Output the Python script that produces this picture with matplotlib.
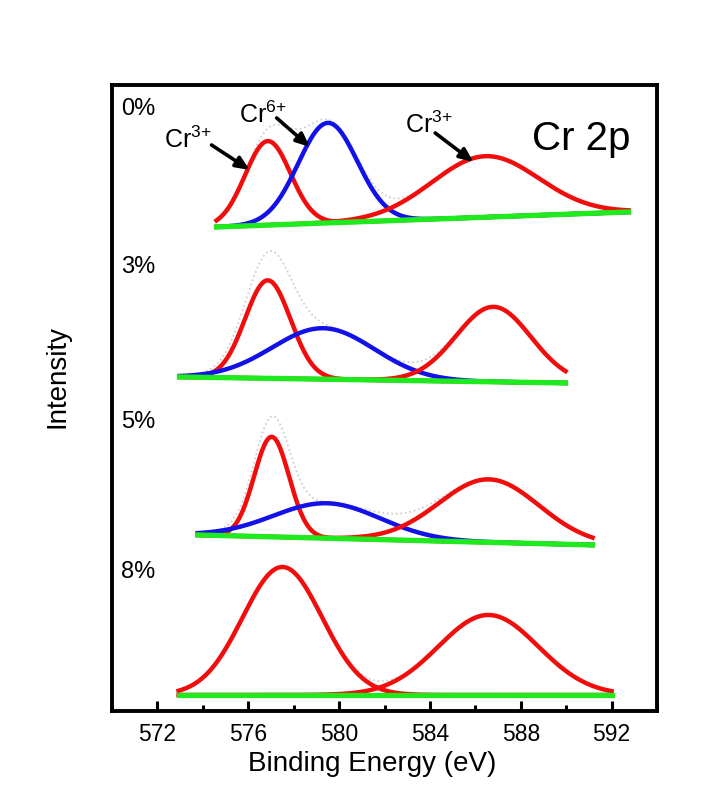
import matplotlib
matplotlib.use("Agg")
import matplotlib.pyplot as plt
import numpy as np
from matplotlib.ticker import MultipleLocator

plt.rcParams['font.family'] = ['Liberation Sans', 'DejaVu Sans']
plt.rcParams['mathtext.fontset'] = 'custom'
plt.rcParams['mathtext.rm'] = 'Liberation Sans'
plt.rcParams['mathtext.it'] = 'Liberation Sans'

# sample labels, top to bottom
samples = ["0%", "3%", "5%", "8%"]

# baseline (drawn as a straight line): start/end energy and intensity
base_x0 = [574.6, 572.97, 573.77, 572.93]
base_x1 = [592.75, 589.97, 591.16, 592.0]
base_y0 = [484, 334, 176, 16]
base_y1 = [499, 328, 166, 16]

# fitted components: Cr3+ (2p3/2), Cr6+, Cr3+ (2p1/2)
cr3a_center = [576.86, 576.86, 577.03, 577.5]
cr3a_height = [84, 98, 100, 128]
cr3a_sigma = [1.0, 1.0, 0.77, 1.75]

cr6_center = [579.5, 579.3, 579.46, None]
cr6_height = [100, 51, 35, None]
cr6_sigma = [1.3, 2.25, 2.35, None]

cr3b_center = [586.44, 586.8, 586.6, 586.57]
cr3b_height = [61, 75, 63, 80]
cr3b_sigma = [2.35, 1.65, 2.2, 2.2]

# label positions
label_y = [596, 438, 283, 133]

RED = "#f20d0d"
BLUE = "#1212e8"
GREEN = "#1eea1e"


def gauss(x, c, h, s):
    return h * np.exp(-(x - c) ** 2 / (2 * s ** 2))


fig = plt.figure(figsize=(7.2, 7.89), dpi=100)
ax = fig.add_axes([0.1556, 0.0989, 0.757, 0.7934])

for i in range(len(samples)):
    x = np.linspace(base_x0[i], base_x1[i], 400)
    base = base_y0[i] + (base_y1[i] - base_y0[i]) * (x - base_x0[i]) / (base_x1[i] - base_x0[i])
    p1 = gauss(x, cr3a_center[i], cr3a_height[i], cr3a_sigma[i])
    p3 = gauss(x, cr3b_center[i], cr3b_height[i], cr3b_sigma[i])
    total = p1 + p3
    if cr6_center[i] is not None:
        p2 = gauss(x, cr6_center[i], cr6_height[i], cr6_sigma[i])
        total = total + p2
    ax.plot(x, base + total, color="#d0d0d0", lw=1.3, ls=(0, (1, 1.5)), zorder=1)
    ax.plot(x, base + p1, color=RED, lw=3.2, zorder=3)
    if cr6_center[i] is not None:
        ax.plot(x, base + p2, color=BLUE, lw=3.2, zorder=3)
    ax.plot(x, base + p3, color=RED, lw=3.2, zorder=3)
    ax.plot(x, base, color=GREEN, lw=3.8, zorder=4)
    ax.text(570.41, label_y[i], samples[i], fontsize=17, ha="left", va="baseline")

ax.text(592.84, 561, "Cr 2p", fontsize=29, ha="right", va="baseline")

arrow = dict(arrowstyle="-|>,head_length=0.8,head_width=0.35", color="black", lw=2.6,
             shrinkA=0, shrinkB=0)
ax.text(572.3, 563, r"Cr$^{3{+}}$", fontsize=18, ha="left", va="baseline")
ax.annotate("", xy=(576.06, 541), xytext=(574.38, 566), arrowprops=arrow)
ax.text(575.6, 588, r"Cr$^{6{+}}$", fontsize=18, ha="left", va="baseline")
ax.annotate("", xy=(578.71, 564), xytext=(577.25, 593), arrowprops=arrow)
ax.text(582.9, 578, r"Cr$^{3{+}}$", fontsize=18, ha="left", va="baseline")
ax.annotate("", xy=(585.91, 549), xytext=(584.23, 578), arrowprops=arrow)

ax.set_xlim(570, 594)
ax.set_ylim(0, 626)
ax.xaxis.set_minor_locator(MultipleLocator(2))
ax.set_xticks(np.arange(572, 593, 4))
ax.tick_params(axis="x", which="major", direction="in", length=7, width=2.2,
               labelsize=16.5, pad=9)
ax.tick_params(axis="x", which="minor", direction="in", length=4, width=2.2)
ax.set_yticks([])
for sp in ax.spines.values():
    sp.set_linewidth(2.8)

ax.set_xlabel("Binding Energy (eV)", fontsize=20)
ax.xaxis.set_label_coords(0.477, -0.064)
ax.set_ylabel("Intensity", fontsize=20)
ax.yaxis.set_label_coords(-0.077, 0.535)

fig.savefig("out.png", dpi=100)
